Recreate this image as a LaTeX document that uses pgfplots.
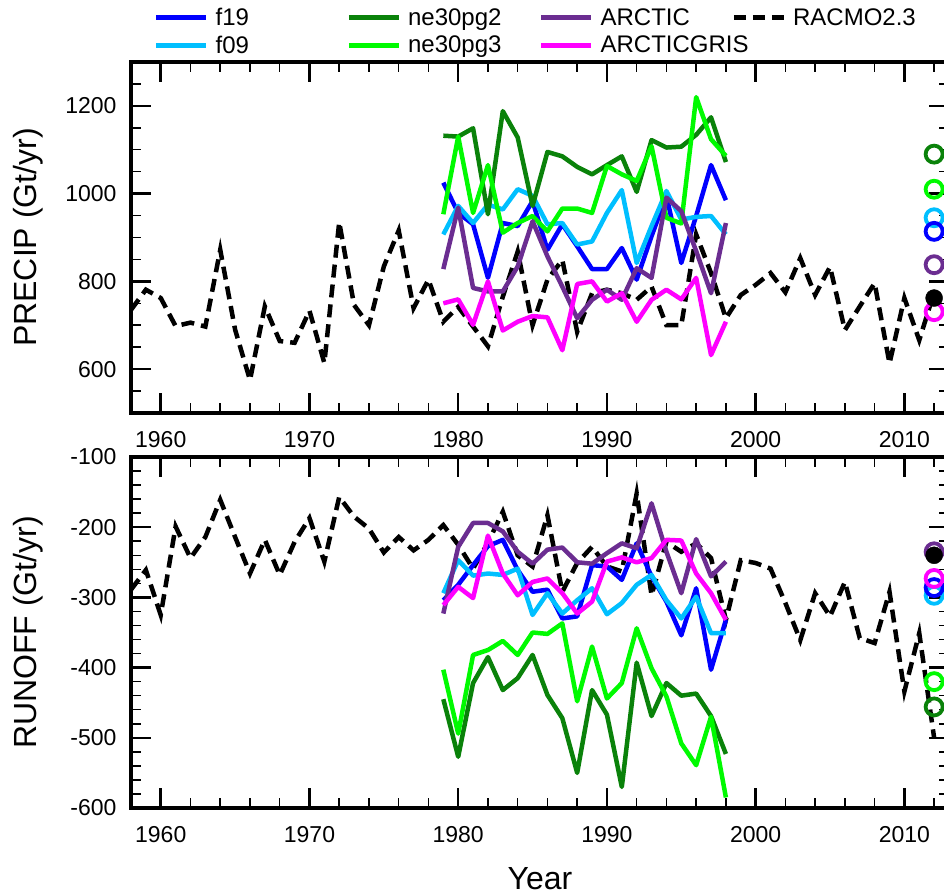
\documentclass[border=0pt]{standalone}
\usepackage{pgfplots}
\pgfplotsset{compat=1.18}
\usepackage{pgfplotstable}
\usepackage{fontspec}
\setmainfont{Liberation Sans}

\definecolor{cf19}{RGB}{0,0,255}
\definecolor{cf09}{RGB}{0,191,255}
\definecolor{cne2}{RGB}{10,130,10}
\definecolor{cne3}{RGB}{0,250,0}
\definecolor{carc}{RGB}{107,45,145}
\definecolor{cgris}{RGB}{255,0,255}

\pgfplotstableread{
year f19 f09 ne2 ne3 arc gris
1979 1025 907 1132 953 828 750
1980 956 972 1130 1130 968 759
1981 930 933 1149 956 785 701
1982 808 975 953 1065 777 800
1983 933 964 1188 911 777 688
1984 926 1010 1128 933 834 708
1985 983 995 972 949 937 721
1986 872 930 1095 914 857 718
1987 930 933 1085 966 788 643
1988 880 884 1061 966 716 794
1989 828 891 1044 956 758 800
1990 828 956 1065 1063 781 754
1991 876 1008 1085 1044 758 773
1992 804 842 1004 1029 830 708
1993 903 926 1122 1108 808 758
1994 995 1006 1105 945 991 781
1995 842 941 1107 932 960 759
1996 949 947 1134 1220 869 808
1997 1065 949 1174 1124 773 632
1998 985 907 1072 1086 933 708
}\precip

\pgfplotstableread{
year f19 f09 ne2 ne3 arc gris
1979 -304 -294 -445 -403 -323 -311
1980 -282 -247 -527 -494 -228 -285
1981 -254 -269 -422 -382 -194 -301
1982 -227 -266 -385 -375 -194 -212
1983 -218 -268 -432 -362 -206 -266
1984 -261 -259 -415 -382 -235 -297
1985 -292 -325 -382 -350 -252 -278
1986 -289 -294 -439 -352 -232 -273
1987 -330 -323 -472 -337 -229 -294
1988 -327 -304 -550 -448 -250 -323
1989 -254 -287 -432 -370 -252 -306
1990 -256 -324 -467 -444 -237 -249
1991 -275 -308 -570 -422 -223 -243
1992 -223 -282 -393 -344 -230 -250
1993 -270 -268 -469 -401 -166 -244
1994 -306 -304 -422 -441 -235 -218
1995 -354 -330 -440 -508 -294 -219
1996 -287 -299 -437 -539 -217 -266
1997 -403 -351 -469 -470 -270 -294
1998 -332 -351 -523 -585 -249 -332
}\runoff

\pgfplotstableread{
year p r
1958 735 -289
1959 781 -261
1960 762 -325
1961 698 -199
1962 706 -244
1963 697 -214
1964 872 -161
1965 690 -214
1966 575 -266
1967 743 -218
1968 664 -268
1969 660 -221
1970 733 -187
1971 614 -249
1972 935 -157
1973 746 -185
1974 700 -202
1975 834 -236
1976 916 -214
1977 739 -233
1978 804 -218
1979 708 -197
1980 742 -225
1981 697 -259
1982 652 -222
1983 765 -178
1984 868 -240
1985 700 -256
1986 804 -183
1987 849 -292
1988 685 -251
1989 773 -228
1990 781 -256
1991 773 -263
1992 758 -152
1993 788 -297
1994 700 -221
1995 700 -235
1996 907 -223
1997 819 -244
1998 716 -332
1999 769 -247
2000 792 -251
2001 819 -259
2002 775 -308
2003 853 -361
2004 769 -294
2005 833 -327
2006 689 -278
2007 743 -358
2008 796 -365
2009 613 -292
2010 762 -434
2011 666 -351
2012 775 -500
}\racmo

\pgfplotsset{
  panel/.style={
    scale only axis, width=818pt, height=351pt,
    xmin=1958, xmax=2013,
    xtick={1960,1970,...,2010},
    xticklabels={1960,1970,1980,1990,2000,2010},
    minor xtick={1958,1960,...,2012},
    tick align=inside,
    major tick length=20pt, minor tick length=10pt,
    major tick style={line width=2.5pt, black},
    minor tick style={line width=1.5pt, black},
    axis line style={line width=4pt},
    ticklabel style={font=\fontsize{23}{23}\selectfont},
    xticklabel style={yshift=-15pt},
    yticklabel style={xshift=-11pt},
    every axis y label/.style={at={(axis description cs:-0.126,0.5)}, rotate=90, anchor=center, font=\fontsize{32}{32}\selectfont},
    every axis x label/.style={at={(axis description cs:0.5,-0.2)}, anchor=center, font=\fontsize{32}{32}\selectfont},
  },
  ser/.style={line width=4.5pt, line join=round},
  rac/.style={black, line width=4.5pt, dash pattern=on 13pt off 7pt},
  circ/.style={only marks, mark=o, mark size=8.5pt, mark options={line width=3.8pt}},
}

\begin{document}
\begin{tikzpicture}
\begin{axis}[panel, at={(131pt,481pt)}, anchor=south west,
  ymin=500, ymax=1300,
  ytick={600,800,1000,1200}, yticklabels={600,800,1000,1200},
  minor ytick={500,550,...,1300},
  ylabel={PRECIP (Gt/yr)},
  legend columns=4,
  legend cell align=left,
  legend image code/.code={\draw[#1] (0pt,0pt) -- (50pt,0pt); \path (55pt,0pt);},
  legend style={draw=none, fill=none, at={(axis description cs:0.028,1.16)}, anchor=north west,
    font=\fontsize{24}{24}\selectfont, column sep=0pt, row sep=5pt, inner sep=0pt, nodes={inner sep=2pt}},
]
\addlegendimage{cf19, line width=4.5pt}
\addlegendentry{\makebox[129pt][l]{f19}}
\addlegendimage{cne2, line width=4.5pt}
\addlegendentry{\makebox[129pt][l]{ne30pg2}}
\addlegendimage{carc, line width=4.5pt}
\addlegendentry{\makebox[129pt][l]{ARCTIC}}
\addlegendimage{black, line width=4.5pt, dash pattern=on 12pt off 7pt}
\addlegendentry{RACMO2.3}
\addlegendimage{cf09, line width=4.5pt}
\addlegendentry{\makebox[129pt][l]{f09}}
\addlegendimage{cne3, line width=4.5pt}
\addlegendentry{\makebox[129pt][l]{ne30pg3}}
\addlegendimage{cgris, line width=4.5pt}
\addlegendentry{\makebox[129pt][l]{ARCTICGRIS}}

\addplot[rac, forget plot] table[x=year, y=p] {\racmo};
\addplot[cf19, ser, forget plot] table[x=year, y=f19] {\precip};
\addplot[cf09, ser, forget plot] table[x=year, y=f09] {\precip};
\addplot[cne2, ser, forget plot] table[x=year, y=ne2] {\precip};
\addplot[cne3, ser, forget plot] table[x=year, y=ne3] {\precip};
\addplot[carc, ser, forget plot] table[x=year, y=arc] {\precip};
\addplot[cgris, ser, forget plot] table[x=year, y=gris] {\precip};

\addplot[cne2, circ, forget plot] coordinates {(2012,1090)};
\addplot[cne3, circ, forget plot] coordinates {(2012,1010)};
\addplot[cf09, circ, forget plot] coordinates {(2012,945)};
\addplot[cf19, circ, forget plot] coordinates {(2012,914)};
\addplot[carc, circ, forget plot] coordinates {(2012,838)};
\addplot[cgris, circ, forget plot] coordinates {(2012,731)};
\addplot[black, only marks, mark=*, mark size=8.5pt, forget plot] coordinates {(2012,762)};
\end{axis}

\begin{axis}[panel, at={(131pt,86pt)}, anchor=south west,
  ymin=-600, ymax=-100,
  ytick={-600,-500,-400,-300,-200,-100}, yticklabels={-600,-500,-400,-300,-200,-100},
  minor ytick={-600,-580,...,-100},
  ylabel={RUNOFF (Gt/yr)},
  xlabel={Year},
]
\addplot[rac, forget plot] table[x=year, y=r] {\racmo};
\addplot[cf19, ser, forget plot] table[x=year, y=f19] {\runoff};
\addplot[cf09, ser, forget plot] table[x=year, y=f09] {\runoff};
\addplot[cne2, ser, forget plot] table[x=year, y=ne2] {\runoff};
\addplot[cne3, ser, forget plot] table[x=year, y=ne3] {\runoff};
\addplot[carc, ser, forget plot] table[x=year, y=arc] {\runoff};
\addplot[cgris, ser, forget plot] table[x=year, y=gris] {\runoff};

\addplot[cne2, circ, forget plot] coordinates {(2012,-456)};
\addplot[cne3, circ, forget plot] coordinates {(2012,-420)};
\addplot[cf09, circ, forget plot] coordinates {(2012,-297)};
\addplot[cf19, circ, forget plot] coordinates {(2012,-286)};
\addplot[cgris, circ, forget plot] coordinates {(2012,-273)};
\addplot[carc, circ, forget plot] coordinates {(2012,-235)};
\addplot[black, only marks, mark=*, mark size=8.5pt, forget plot] coordinates {(2012,-240)};
\end{axis}
\pgfresetboundingbox
\useasboundingbox (0,0) rectangle (944pt,894pt);
\end{tikzpicture}
\end{document}
